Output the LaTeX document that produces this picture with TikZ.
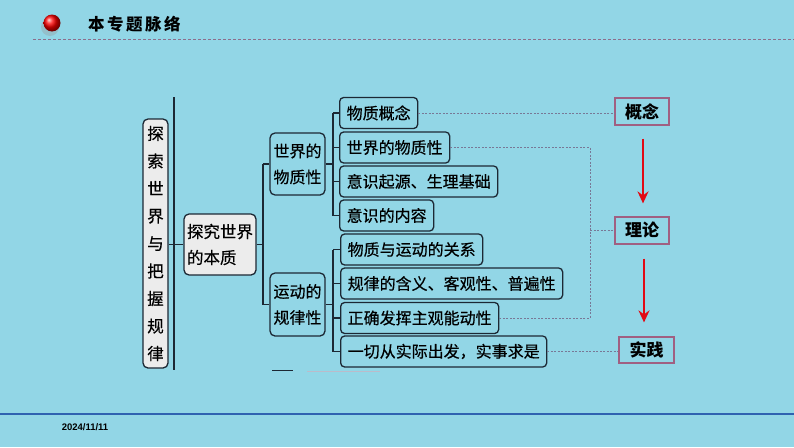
\documentclass[tikz,border=0pt]{standalone}
\usepackage{fontspec}
\newfontfamily\cjk{Noto Sans CJK SC}
\newfontfamily\cjkh[FakeBold=0.5]{Noto Sans CJK SC}
\newfontfamily\lib{Liberation Sans}
\usetikzlibrary{arrows.meta,calc}
\definecolor{bg}{RGB}{146,214,230}
\definecolor{boxline}{RGB}{28,40,52}
\definecolor{mauve}{RGB}{160,96,130}
\definecolor{linkgray}{RGB}{120,120,150}
\definecolor{headdash}{RGB}{140,110,140}
\definecolor{footblue}{RGB}{47,98,176}
\definecolor{arrowred}{RGB}{225,10,20}
\tikzset{
  leaf/.style={draw=boxline, line width=1.3pt, rounded corners=4pt, fill=bg,
    font=\cjkh\fontsize{16}{18}\selectfont, text=black, inner xsep=7pt, inner ysep=0pt,
    minimum height=31pt, anchor=west},
  branch/.style={draw=boxline, line width=1.3pt, rounded corners=5pt, fill=bg,
    font=\cjkh\fontsize{16}{26}\selectfont, text=black, align=center, inner sep=0pt},
  graybox/.style={branch, fill=gray!15},
  concept/.style={draw=mauve, line width=1.2pt, fill=bg,
    font=\cjk\bfseries\fontsize{17}{20}\selectfont, inner sep=0pt,
    minimum width=54pt, minimum height=27pt},
  tree/.style={line width=1.3pt, draw=boxline},
  link/.style={draw=linkgray, line width=0.7pt, dash pattern=on 2pt off 1.5pt},
  redarrow/.style={draw=arrowred, line width=2.5pt, -{Stealth[length=12pt,width=11pt,inset=4pt]}}
}
\begin{document}
\begin{tikzpicture}[x=1pt,y=-1pt]
\useasboundingbox (0,0) rectangle (794,447);
\fill[bg] (0,0) rectangle (794,447);

% header
\fill[black!40, opacity=0.35] (50,27) circle (9);
\shade[ball color=red] (52,23) circle (8.5);
\node[font=\cjk\bfseries\fontsize{16.5}{18}\selectfont, anchor=west, inner sep=0pt] (title) at (88,24)
  {本\hspace{2.5pt}专\hspace{2.5pt}题\hspace{2.5pt}脉\hspace{2.5pt}络};
\draw[headdash, line width=1pt, dash pattern=on 3pt off 2pt] (33,39) -- (794,39);

% footer
\draw[footblue, line width=2pt] (0,414) -- (794,414);
\node[font=\lib\bfseries\fontsize{9.5}{11}\selectfont, inner sep=0pt] (date) at (85,427) {2024/11/11};

% decorative vertical line
\coordinate (vtop) at (174,97);
\coordinate (vbot) at (174,370);
\draw[tree] (vtop) -- (vbot);

% stray marks at bottom
\draw[boxline, line width=1pt] (272,370) -- (293,370);
\draw[linkgray!50, line width=0.6pt] (307,371) -- (380,371);

% left boxes
\node[graybox, minimum width=25pt, minimum height=249pt, font=\cjkh\fontsize{16.5}{27.5}\selectfont] (L) at (155.5,243.5)
  {探\\索\\世\\界\\与\\把\\握\\规\\律};
\node[graybox, minimum width=72pt, minimum height=61pt, align=left, font=\cjkh\fontsize{16.5}{26}\selectfont] (M) at (220,244.5)
  {探究世界\\的本质};

% branch boxes
\node[branch, minimum width=55pt, minimum height=62pt] (B1) at (297.5,164) {世界的\\物质性};
\node[branch, minimum width=55pt, minimum height=63pt] (B2) at (297.5,304.5) {运动的\\规律性};

% leaves
\node[leaf] (A1) at (339,113) {物质概念};
\node[leaf] (A2) at (339,147.5) {世界的物质性};
\node[leaf] (A3) at (339,181.5) {意识起源、生理基础};
\node[leaf] (A4) at (339,215.5) {意识的内容};
\node[leaf] (C1) at (340,249.5) {物质与运动的关系};
\node[leaf] (C2) at (340,283.5) {规律的含义、客观性、普遍性};
\node[leaf] (C3) at (340,318) {正确发挥主观能动性};
\node[leaf] (C4) at (340,351.5) {一切从实际出发，实事求是};

% right concept boxes
\node[concept] (R1) at (642,111.5) {概念};
\node[concept] (R2) at (642,230.5) {理论};
\node[concept, minimum width=55pt, minimum height=26pt] (R3) at (646.5,350) {实践};

% tree connectors
\draw[tree] (M.west -| L.east) -- (M.west);
\coordinate (m1) at (263,0);
\draw[tree] (M.east) -- (M.east -| m1);
\draw[tree] (B1.west -| m1) -- (B2.west -| m1);
\draw[tree] (B1.west -| m1) -- (B1.west);
\draw[tree] (B2.west -| m1) -- (B2.west);

\coordinate (k1) at (333,0);
\draw[tree] (B1.east) -- (B1.east -| k1);
\draw[tree] (A1.west -| k1) -- (A4.west -| k1);
\foreach \n in {A1,A2,A3,A4} \draw[tree] (\n.west -| k1) -- (\n.west);
\draw[tree] (B2.east) -- (B2.east -| k1);
\draw[tree] (C1.west -| k1) -- (C4.west -| k1);
\foreach \n in {C1,C2,C3,C4} \draw[tree] (\n.west -| k1) -- (\n.west);

% dashed links
\draw[link] (A1.east) -- (A1.east -| R1.west);
\coordinate (j) at (590,0);
\draw[link] (A2.east) -- (A2.east -| j) -- (C3.east -| j) -- (C3.east);
\draw[link] (R2.west -| j) -- (R2.west);
\draw[link] (C4.east) -- (C4.east -| R3.west);

% red arrows
\coordinate (a1s) at ($(R1.south)+(1,0)$);
\coordinate (a2s) at ($(R2.south)+(2,0)$);
\draw[redarrow, shorten <=13pt, shorten >=13pt] (a1s) -- (a1s |- R2.north);
\draw[redarrow, shorten <=14pt, shorten >=14pt] (a2s) -- (a2s |- R3.north);
\end{tikzpicture}
\end{document}
